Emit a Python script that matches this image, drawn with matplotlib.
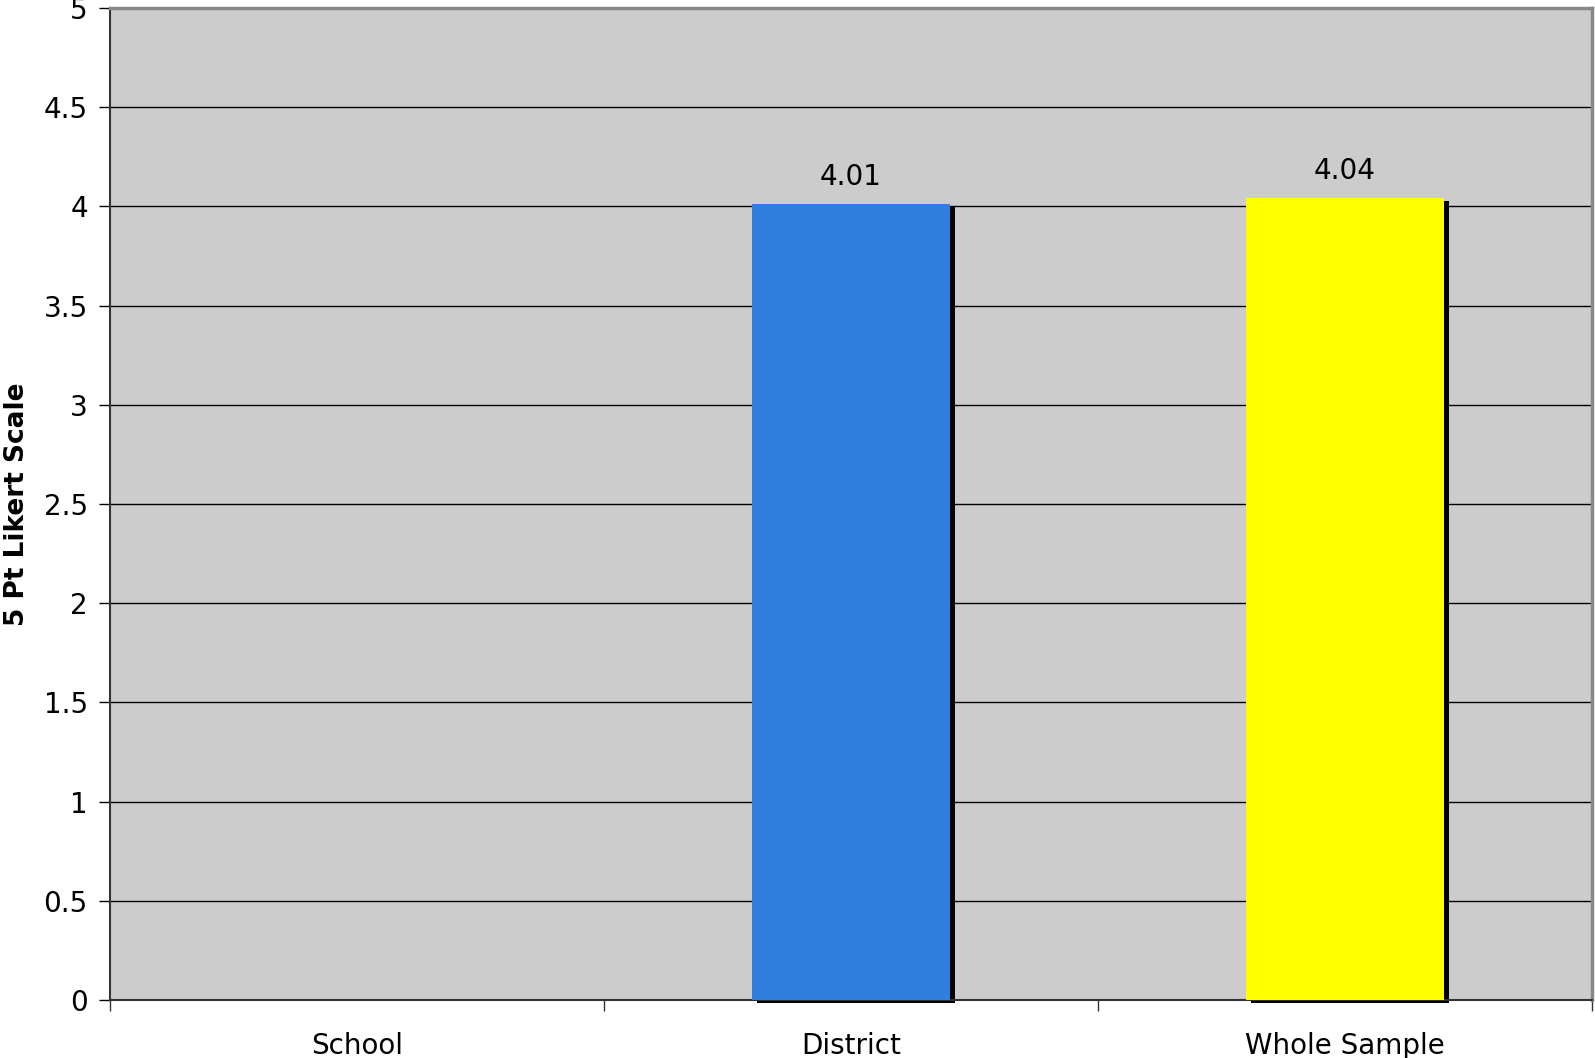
import matplotlib
matplotlib.use('Agg')
import matplotlib.pyplot as plt
import matplotlib.transforms as mtransforms
import numpy as np

categories = ['School', 'District', 'Whole Sample']
values = [np.nan, 4.01, 4.04]
colors = ['#2e7fe0', '#2e7fe0', '#ffff00']
yticks = [0, 0.5, 1, 1.5, 2, 2.5, 3, 3.5, 4, 4.5, 5]

fig = plt.figure(figsize=(15.95, 10.58), dpi=100)
ax = fig.add_axes([110 / 1595, 58 / 1058, 1482 / 1595, 992 / 1058])
ax.set_facecolor('#cccccc')

x = np.arange(len(categories))
ax.set_xlim(-0.5, len(categories) - 0.5)
ax.set_ylim(0, 5)

# grid lines
for yy in yticks[1:]:
    ax.axhline(yy, color='black', linewidth=1.0, zorder=1)

# shadow bars
shadow = mtransforms.offset_copy(ax.transData, fig=fig, x=5, y=-3, units='dots')
ax.bar(x, values, width=0.4, color='black', transform=shadow, zorder=2, clip_on=False)
ax.bar(x, values, width=0.4, color=colors, zorder=3)

for xx, vv in zip(x, values):
    if np.isnan(vv):
        continue
    ax.text(xx, vv + 0.07, '%.2f' % vv, ha='center', va='bottom', fontsize=20, zorder=4)

ax.set_yticks(yticks)
ax.set_yticklabels(['0', '0.5', '1', '1.5', '2', '2.5', '3', '3.5', '4', '4.5', '5'])
ax.set_xticks(x)
ax.set_xticklabels(categories)
ax.set_xticks(np.arange(len(categories) + 1) - 0.5, minor=True)
ax.tick_params(axis='x', which='major', length=0, labelsize=20, pad=23)
ax.tick_params(axis='x', which='minor', length=8, width=1, color='#333333')
ax.tick_params(axis='y', length=8, width=1, labelsize=20, pad=8)

ax.set_ylabel('5 Pt Likert Scale', fontsize=19, fontweight='bold', labelpad=10)

ax.spines['left'].set_color('#333333')
ax.spines['left'].set_linewidth(1.5)
ax.spines['bottom'].set_color('#333333')
ax.spines['bottom'].set_linewidth(1.5)
ax.spines['top'].set_color('#888888')
ax.spines['top'].set_linewidth(2.5)
ax.spines['right'].set_color('#888888')
ax.spines['right'].set_linewidth(2.5)

plt.savefig('out.png', dpi=100)
